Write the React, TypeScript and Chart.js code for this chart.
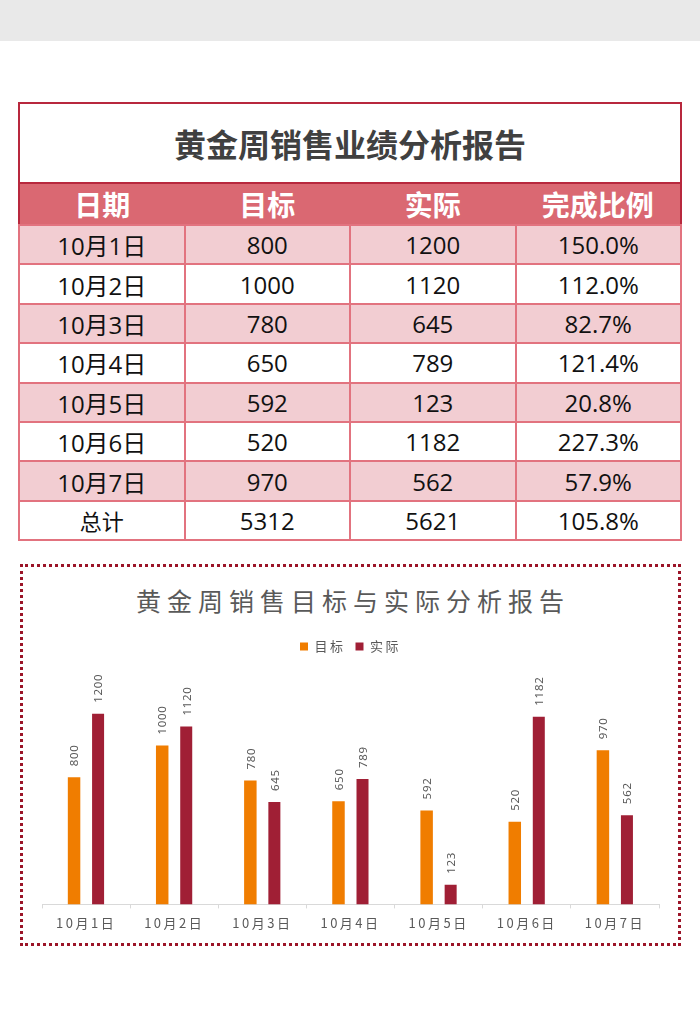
import React, { useEffect, useRef } from 'react';
import { Chart, registerables } from 'chart.js';

Chart.register(...registerables);

const tableTitle = '黄金周销售业绩分析报告';
const chartTitle = '黄金周销售目标与实际分析报告';
const headers = ['日期', '目标', '实际', '完成比例'];
const dates = ['10月1日', '10月2日', '10月3日', '10月4日', '10月5日', '10月6日', '10月7日'];
const targets = [800, 1000, 780, 650, 592, 520, 970];
const actuals = [1200, 1120, 645, 789, 123, 1182, 562];
const ratios = ['150.0%', '112.0%', '82.7%', '121.4%', '20.8%', '227.3%', '57.9%'];
const totalRow = ['总计', '5312', '5621', '105.8%'];
const seriesNames = ['目标', '实际'];

const CJK = '"Noto Sans CJK SC", "Noto Sans", sans-serif';
const NUM = '"Open Sans", "Noto Sans CJK SC", sans-serif';

const spacingPlugin = {
  id: 'spacing',
  beforeLayout(chart: any) {
    chart.ctx.letterSpacing = '2.5px';
  },
  beforeDraw(chart: any) {
    chart.ctx.letterSpacing = '2.5px';
  },
  afterDraw(chart: any) {
    chart.ctx.letterSpacing = '0px';
  },
};

const valueLabels = {
  id: 'valueLabels',
  afterDatasetsDraw(chart: any) {
    const ctx = chart.ctx;
    chart.data.datasets.forEach((ds: any, i: number) => {
      const meta = chart.getDatasetMeta(i);
      meta.data.forEach((bar: any, j: number) => {
        ctx.save();
        ctx.letterSpacing = '0.7px';
        ctx.translate(bar.x + 1, bar.y - 11);
        ctx.rotate(-Math.PI / 2);
        ctx.font = '11.5px "Noto Sans", sans-serif';
        ctx.fillStyle = '#595959';
        ctx.textAlign = 'left';
        ctx.textBaseline = 'middle';
        ctx.fillText(String(ds.data[j]), 0, 0);
        ctx.restore();
      });
    });
  },
};

function SalesChart() {
  const ref = useRef<HTMLCanvasElement | null>(null);
  useEffect(() => {
    if (!ref.current) return;
    const chart = new Chart(ref.current, {
      type: 'bar',
      data: {
        labels: dates,
        datasets: [
          {
            label: seriesNames[0],
            data: targets,
            backgroundColor: '#f07d00',
            categoryPercentage: 0.545,
            barPercentage: 0.52,
          },
          {
            label: seriesNames[1],
            data: actuals,
            backgroundColor: '#a01f35',
            categoryPercentage: 0.545,
            barPercentage: 0.5,
          },
        ],
      },
      options: {
        animation: false,
        responsive: true,
        maintainAspectRatio: false,
        layout: { padding: { left: 22, right: 21, top: 10, bottom: 3 } },
        plugins: {
          legend: {
            position: 'top',
            labels: {
              boxWidth: 8,
              boxHeight: 8,
              padding: 10,
              color: '#595959',
              font: { size: 13, family: CJK },
            },
          },
          title: { display: false },
          tooltip: { enabled: false },
        },
        scales: {
          x: {
            offset: true,
            grid: {
              display: true,
              offset: true,
              drawOnChartArea: false,
              drawTicks: true,
              tickLength: 4,
              color: '#d9d9d9',
            },
            border: { display: true, color: '#d9d9d9', width: 1 },
            ticks: { color: '#595959', padding: 7, font: { size: 13, family: CJK } },
          },
          y: { display: false, min: 0, max: 1520 },
        },
      },
      plugins: [spacingPlugin, valueLabels],
    } as any);
    return () => chart.destroy();
  }, []);
  return <canvas ref={ref} />;
}

export default function App() {
  const cell = (extra: React.CSSProperties = {}): React.CSSProperties => ({
    border: '2px solid #e2737f',
    textAlign: 'center',
    verticalAlign: 'middle',
    padding: 0,
    fontFamily: NUM,
    fontSize: 24,
    color: '#111',
    ...extra,
  });
  const rows = dates.map((d, i) => [d, String(targets[i]), String(actuals[i]), ratios[i]]);
  return (
    <div
      style={{
        position: 'absolute',
        left: 0,
        top: 0,
        width: 700,
        height: 1030,
        background: '#ffffff',
        overflow: 'hidden',
      }}
    >
      <div style={{ position: 'absolute', left: 0, top: 0, width: 700, height: 41, background: '#e9e9e9' }} />
      <table
        style={{
          position: 'absolute',
          left: 18,
          top: 102,
          width: 664,
          borderCollapse: 'collapse',
          tableLayout: 'fixed',
          border: '2px solid #b8283d',
        }}
      >
        <tbody>
          <tr style={{ height: 80 }}>
            <td
              colSpan={4}
              style={{
                textAlign: 'center',
                verticalAlign: 'middle',
                fontFamily: CJK,
                fontWeight: 700,
                fontSize: 32,
                color: '#404040',
                padding: 0,
                border: '2px solid #b8283d',
              }}
            >
              {tableTitle}
            </td>
          </tr>
          <tr style={{ height: 39, background: '#da6872' }}>
            {headers.map((h) => (
              <td
                key={h}
                style={{
                  textAlign: 'center',
                  verticalAlign: 'middle',
                  fontFamily: CJK,
                  fontWeight: 700,
                  fontSize: 28,
                  color: '#ffffff',
                  padding: 0,
                  borderBottom: '2px solid #e2737f',
                }}
              >
                {h}
              </td>
            ))}
          </tr>
          {rows.map((r, i) => (
            <tr key={i} style={{ height: 39.4, background: i % 2 === 0 ? '#f2cdd2' : '#ffffff' }}>
              {r.map((c, j) => (
                <td key={j} style={cell()}>
                  {c}
                </td>
              ))}
            </tr>
          ))}
          <tr style={{ height: 39.4, background: '#ffffff' }}>
            {totalRow.map((c, j) => (
              <td key={j} style={cell(j === 0 ? { fontFamily: CJK, fontSize: 22 } : {})}>
                {c}
              </td>
            ))}
          </tr>
        </tbody>
      </table>
      <div
        style={{
          position: 'absolute',
          left: 20,
          top: 564,
          width: 661,
          height: 382,
          boxSizing: 'border-box',
          border: '3px dotted #9b1428',
        }}
      />
      <div
        style={{
          position: 'absolute',
          left: 20,
          top: 585,
          width: 660,
          height: 30,
          lineHeight: '30px',
          textAlign: 'center',
          fontFamily: CJK,
          fontSize: 25,
          color: '#595959',
          letterSpacing: 6,
          paddingLeft: 6,
          boxSizing: 'border-box',
          whiteSpace: 'nowrap',
        }}
      >
        {chartTitle}
      </div>
      <div style={{ position: 'absolute', left: 20, top: 620, width: 660, height: 321 }}>
        <SalesChart />
      </div>
    </div>
  );
}
